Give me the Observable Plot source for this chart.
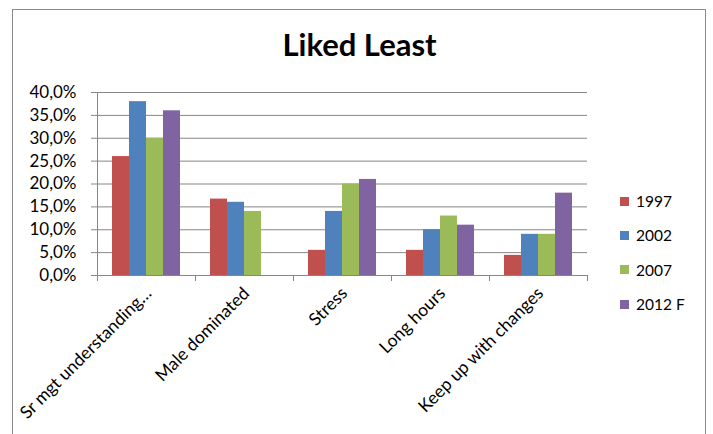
<!DOCTYPE html>
<html>
<head>
<meta charset="utf-8">
<script src="https://cdn.jsdelivr.net/npm/d3@7"></script>
<script src="https://cdn.jsdelivr.net/npm/@observablehq/plot@0.6"></script>
<style>
  html, body { margin: 0; padding: 0; background: #fff; }
  #wrap { position: relative; width: 713px; height: 434px; overflow: hidden; font-family: Lato, sans-serif; }
  #edge { position: absolute; left: 12px; top: 9px; width: 694px; height: 460px; border: 1.5px solid #8a8a8a; box-sizing: border-box; }
  #title { position: absolute; left: 0; width: 719px; top: 25px; text-align: center; font-size: 31px; font-weight: bold; color: #000; }
  #chart { position: absolute; left: 0; top: 0; }
  #legend { position: absolute; left: 620px; top: 184px; }
  .item { display: flex; align-items: center; height: 34.3px; font-size: 15.5px; color: #000; }
  .sw { width: 9px; height: 9px; margin-right: 7px; }
</style>
</head>
<body>
<div id="wrap">
  <div id="edge"></div>
  <div id="title">Liked Least</div>
  <div id="chart"></div>
  <div id="legend"></div>
</div>
<script>
// Reasons given for liking the job least, share of respondents by survey year
const categories = ["Sr mgt understanding…", "Male dominated", "Stress", "Long hours", "Keep up with changes"];
const years = ["1997", "2002", "2007", "2012 F"];
const v1997 = [26, 16.7, 5.5, 5.5, 4.4];
const v2002 = [38, 16, 14, 10, 9];
const v2007 = [30, 14, 20, 13, 9];
const v2012 = [36, null, 21, 11, 18];
const yTicks = [0, 5, 10, 15, 20, 25, 30, 35, 40];
const colors = ["#C0504D", "#4F81BD", "#9BBB59", "#8064A2"];

const series = [v1997, v2002, v2007, v2012];
const rows = [];
years.forEach((year, i) => {
  categories.forEach((category, j) => {
    if (series[i][j] != null) rows.push({category, year, value: series[i][j]});
  });
});

const W = 713, H = 434, mt = 92, mb = 159, ml = 96, mr = 125;
const plotH = H - mt - mb;
const gray = "#868686";
const pct = d => d.toFixed(1).replace(".", ",") + "%";

const chart = Plot.plot({
  width: W,
  height: H,
  marginTop: mt,
  marginBottom: mb,
  marginLeft: ml,
  marginRight: mr,
  style: {fontFamily: "Lato, sans-serif", fontSize: "16px", color: "#000", background: "transparent", overflow: "visible"},
  fx: {domain: categories, padding: 0, label: null, axis: null},
  x: {domain: years, paddingInner: 0, paddingOuter: 0.733, axis: null},
  y: {domain: [0, 40], axis: null},
  color: {domain: years, range: colors},
  marks: [
    Plot.gridY(yTicks, {stroke: gray, strokeOpacity: 1}),
    Plot.barY(rows, {fx: "category", x: "year", y: "value", fill: "year"}),
    Plot.ruleY([0], {stroke: gray}),
    // category boundary ticks below the baseline
    Plot.frame({anchor: "left", stroke: gray, insetTop: plotH, insetBottom: -5}),
    Plot.frame({anchor: "right", stroke: gray, insetTop: plotH, insetBottom: -5}),
    // value axis line
    Plot.frame({anchor: "left", stroke: gray, facetAnchor: "left"}),
    Plot.axisY(yTicks, {tickSize: 6, tickPadding: 15, stroke: gray, tickFormat: pct, fontSize: "17px", fill: "#000", label: null}),
    Plot.axisFx({anchor: "bottom", tickSize: 0, tickRotate: -45, tickPadding: 15, dx: 2, fill: "#000", label: null, fontSize: "17.5px"})
  ]
});
document.getElementById("chart").appendChild(chart);

const color = chart.scale("color");
const legend = document.getElementById("legend");
years.forEach(y => {
  const item = document.createElement("div");
  item.className = "item";
  const sw = document.createElement("span");
  sw.className = "sw";
  sw.style.background = color.apply(y);
  item.appendChild(sw);
  item.appendChild(document.createTextNode(y));
  legend.appendChild(item);
});
</script>
</body>
</html>
